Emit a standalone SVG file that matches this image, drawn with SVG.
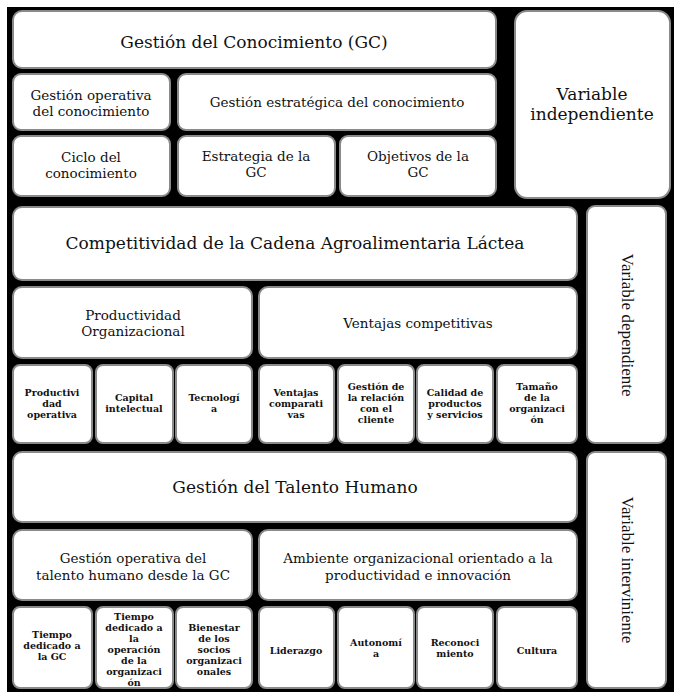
<svg xmlns="http://www.w3.org/2000/svg" width="674" height="692" viewBox="0 0 674 692">
<style>
.b{fill:#ffffff;stroke:#8a8a8a;stroke-width:2}
.t{font-family:"DejaVu Serif","Liberation Serif",serif;fill:#111;text-anchor:middle}
.l{font-size:17px}
.m{font-size:13.5px}
.s{font-size:9.5px;font-weight:bold}
.v{font-family:"Liberation Serif",serif;font-size:17px;fill:#111;text-anchor:middle}
</style>
<rect x="0" y="0" width="674" height="692" fill="#ffffff"/>
<rect x="7" y="7" width="667" height="685" fill="#000000"/>
<g id="connectors"></g>

<g id="gc"><rect class="b" x="13" y="11" width="483" height="57" rx="9"/><text class="t l" x="254" y="48">Gestión del Conocimiento (GC)</text></g>
<g id="var-indep"><rect class="b" x="515" y="11" width="155" height="187" rx="12"/><text class="t l" x="592" y="100">Variable</text><text class="t l" x="592" y="120">independiente</text></g>
<g id="go-con"><rect class="b" x="13" y="74" width="157" height="56" rx="8"/><text class="t m" x="91" y="100">Gestión operativa</text><text class="t m" x="91" y="116">del conocimiento</text></g>
<g id="ge-con"><rect class="b" x="178" y="74" width="318" height="56" rx="8"/><text class="t m" x="337" y="107">Gestión estratégica del conocimiento</text></g>
<g id="ciclo"><rect class="b" x="13" y="136" width="157" height="60" rx="8"/><text class="t m" x="91" y="162">Ciclo del</text><text class="t m" x="91" y="178">conocimiento</text></g>
<g id="estrategia"><rect class="b" x="178" y="136" width="157" height="60" rx="8"/><text class="t m" x="256" y="161">Estrategia de la</text><text class="t m" x="256" y="177">GC</text></g>
<g id="objetivos"><rect class="b" x="340" y="136" width="156" height="60" rx="8"/><text class="t m" x="418" y="161">Objetivos de la</text><text class="t m" x="418" y="177">GC</text></g>

<g id="competitividad"><rect class="b" x="13" y="207" width="564" height="73" rx="9"/><text class="t l" x="295" y="249">Competitividad de la Cadena Agroalimentaria Láctea</text></g>
<g id="var-dep"><rect class="b" x="587" y="206" width="79" height="237" rx="8"/><text class="v" transform="translate(622,325) rotate(90)">Variable dependiente</text></g>
<g id="productividad"><rect class="b" x="13" y="287" width="239" height="71" rx="9"/><text class="t m" x="133" y="320">Productividad</text><text class="t m" x="133" y="336">Organizacional</text></g>
<g id="ventajas"><rect class="b" x="259" y="287" width="318" height="71" rx="9"/><text class="t m" x="418" y="328">Ventajas competitivas</text></g>

<g id="prod-op"><rect class="b" x="13" y="365" width="79" height="78" rx="7"/><text class="t s" x="52" y="396">Productivi</text><text class="t s" x="52" y="407">dad</text><text class="t s" x="52" y="418">operativa</text></g>
<g id="capital"><rect class="b" x="96" y="365" width="77" height="78" rx="7"/><text class="t s" x="134" y="401">Capital</text><text class="t s" x="134" y="412">intelectual</text></g>
<g id="tecnologia"><rect class="b" x="176" y="365" width="76" height="78" rx="7"/><text class="t s" x="214" y="401">Tecnologí</text><text class="t s" x="214" y="412">a</text></g>
<g id="vent-comp"><rect class="b" x="259" y="365" width="75" height="78" rx="7"/><text class="t s" x="296" y="396">Ventajas</text><text class="t s" x="296" y="407">comparati</text><text class="t s" x="296" y="418">vas</text></g>
<g id="gest-rel"><rect class="b" x="338" y="365" width="76" height="78" rx="7"/><text class="t s" x="376" y="390">Gestión de</text><text class="t s" x="376" y="401">la relación</text><text class="t s" x="376" y="412">con el</text><text class="t s" x="376" y="423">cliente</text></g>
<g id="calidad"><rect class="b" x="417" y="365" width="76" height="78" rx="7"/><text class="t s" x="455" y="396">Calidad de</text><text class="t s" x="455" y="407">productos</text><text class="t s" x="455" y="418">y servicios</text></g>
<g id="tamano"><rect class="b" x="497" y="365" width="80" height="78" rx="7"/><text class="t s" x="537" y="390">Tamaño</text><text class="t s" x="537" y="401">de la</text><text class="t s" x="537" y="412">organizaci</text><text class="t s" x="537" y="423">ón</text></g>

<g id="gth"><rect class="b" x="13" y="452" width="564" height="70" rx="9"/><text class="t l" x="295" y="493">Gestión del Talento Humano</text></g>
<g id="var-interv"><rect class="b" x="587" y="452" width="79" height="236" rx="8"/><text class="v" transform="translate(622,570) rotate(90)">Variable interviniente</text></g>
<g id="gest-op-th"><rect class="b" x="13" y="530" width="239" height="70" rx="9"/><text class="t m" x="133" y="563">Gestión  operativa del</text><text class="t m" x="133" y="580">talento humano desde la GC</text></g>
<g id="ambiente"><rect class="b" x="259" y="530" width="318" height="70" rx="9"/><text class="t m" x="418" y="563">Ambiente organizacional orientado a la</text><text class="t m" x="418" y="580">productividad e innovación</text></g>

<g id="tiempo-gc"><rect class="b" x="13" y="607" width="79" height="81" rx="7"/><text class="t s" x="52" y="638">Tiempo</text><text class="t s" x="52" y="649">dedicado a</text><text class="t s" x="52" y="660">la GC</text></g>
<g id="tiempo-op"><rect class="b" x="96" y="607" width="77" height="81" rx="7"/><text class="t s" x="134" y="620">Tiempo</text><text class="t s" x="134" y="631">dedicado a</text><text class="t s" x="134" y="642">la</text><text class="t s" x="134" y="653">operación</text><text class="t s" x="134" y="664">de la</text><text class="t s" x="134" y="675">organizaci</text><text class="t s" x="134" y="686">ón</text></g>
<g id="bienestar"><rect class="b" x="176" y="607" width="76" height="81" rx="7"/><text class="t s" x="214" y="631">Bienestar</text><text class="t s" x="214" y="642">de los</text><text class="t s" x="214" y="653">socios</text><text class="t s" x="214" y="664">organizaci</text><text class="t s" x="214" y="675">onales</text></g>
<g id="liderazgo"><rect class="b" x="259" y="607" width="75" height="81" rx="7"/><text class="t s" x="296" y="654">Liderazgo</text></g>
<g id="autonomia"><rect class="b" x="338" y="607" width="76" height="81" rx="7"/><text class="t s" x="376" y="646">Autonomí</text><text class="t s" x="376" y="657">a</text></g>
<g id="reconocimiento"><rect class="b" x="417" y="607" width="76" height="81" rx="7"/><text class="t s" x="455" y="646">Reconoci</text><text class="t s" x="455" y="657">miento</text></g>
<g id="cultura"><rect class="b" x="497" y="607" width="80" height="81" rx="7"/><text class="t s" x="537" y="654">Cultura</text></g>
</svg>
